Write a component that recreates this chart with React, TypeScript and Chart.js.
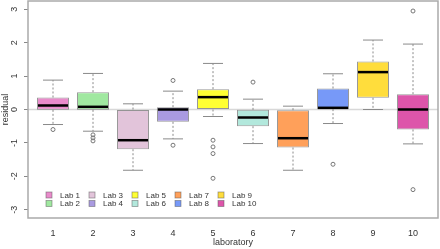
import React, { useEffect, useRef } from "react";
import { Chart, registerables } from "chart.js";

Chart.register(...registerables);

const labs = [1, 2, 3, 4, 5, 6, 7, 8, 9, 10];
const labNames = ["Lab 1", "Lab 2", "Lab 3", "Lab 4", "Lab 5", "Lab 6", "Lab 7", "Lab 8", "Lab 9", "Lab 10"];
const q1 = [-0.01, -0.01, -1.19, -0.37, 0.0, -0.5, -1.14, 0.01, 0.35, -0.6];
const q3 = [0.36, 0.52, 0.0, 0.07, 0.61, -0.01, -0.02, 0.63, 1.44, 0.46];
const medians = [0.12, 0.08, -0.92, 0.0, 0.37, -0.24, -0.86, 0.05, 1.12, 0.0];
const whiskerLow = [-0.45, -0.65, -1.82, -0.88, -0.21, -1.02, -1.82, -0.42, 0.0, -1.03];
const whiskerHigh = [0.88, 1.08, 0.17, 0.55, 1.38, 0.31, 0.1, 1.07, 2.08, 1.96];
const outlierLab = [1, 2, 2, 2, 4, 4, 5, 5, 5, 5, 6, 8, 10, 10];
const outlierValue = [-0.6, -0.76, -0.85, -0.94, 0.87, -1.07, -0.92, -1.12, -1.32, -2.06, 0.82, -1.64, 2.95, -2.4];
const colors = ["#E98BCB", "#A0E8A0", "#E2C4DA", "#A99AE0", "#FFFF33", "#B2E8DC", "#FFA05A", "#7799F8", "#FFDD3C", "#DD55AA"];
const yTicks = [-3, -2, -1, 0, 1, 2, 3];

const TEXT = "#333333";
const FONT = "Liberation Sans, Arial, sans-serif";

const boxPlugin = {
  id: "boxplotExtras",
  beforeDatasetsDraw(chart: any) {
    const { ctx, chartArea, scales } = chart;
    const x = scales.x;
    const y = scales.y;
    ctx.save();
    const y0 = y.getPixelForValue(0);
    ctx.strokeStyle = "#d8d8d8";
    ctx.lineWidth = 1.5;
    ctx.beginPath();
    ctx.moveTo(chartArea.left, y0);
    ctx.lineTo(chartArea.right, y0);
    ctx.stroke();
    const unit = x.getPixelForValue(1) - x.getPixelForValue(0);
    labs.forEach((lab, i) => {
      const px = x.getPixelForValue(lab);
      ctx.strokeStyle = "#8a8a8a";
      ctx.lineWidth = 1;
      ctx.setLineDash([2, 2]);
      ctx.beginPath();
      ctx.moveTo(px, y.getPixelForValue(q3[i]));
      ctx.lineTo(px, y.getPixelForValue(whiskerHigh[i]));
      ctx.moveTo(px, y.getPixelForValue(q1[i]));
      ctx.lineTo(px, y.getPixelForValue(whiskerLow[i]));
      ctx.stroke();
      ctx.setLineDash([]);
      ctx.beginPath();
      const half = unit * 0.25;
      ctx.moveTo(px - half, y.getPixelForValue(whiskerHigh[i]));
      ctx.lineTo(px + half, y.getPixelForValue(whiskerHigh[i]));
      ctx.moveTo(px - half, y.getPixelForValue(whiskerLow[i]));
      ctx.lineTo(px + half, y.getPixelForValue(whiskerLow[i]));
      ctx.stroke();
    });
    ctx.restore();
  },
  afterDatasetsDraw(chart: any) {
    const { ctx, scales } = chart;
    const y = scales.y;
    const meta = chart.getDatasetMeta(0);
    ctx.save();
    ctx.strokeStyle = "#000000";
    ctx.lineWidth = 2.5;
    meta.data.forEach((bar: any, i: number) => {
      const w = bar.width;
      const py = y.getPixelForValue(medians[i]);
      ctx.beginPath();
      ctx.moveTo(bar.x - w / 2 + 1, py);
      ctx.lineTo(bar.x + w / 2 - 1, py);
      ctx.stroke();
    });
    ctx.restore();
  },
  afterDraw(chart: any) {
    const { ctx, chartArea, scales } = chart;
    const y = scales.y;
    ctx.save();
    ctx.strokeStyle = "#aaaaaa";
    ctx.lineWidth = 1.5;
    ctx.strokeRect(chartArea.left, chartArea.top, chartArea.right - chartArea.left, chartArea.bottom - chartArea.top);
    ctx.fillStyle = TEXT;
    ctx.font = `9px ${FONT}`;
    ctx.textAlign = "center";
    ctx.textBaseline = "middle";
    y.ticks.forEach((t: any) => {
      const py = y.getPixelForValue(t.value);
      ctx.save();
      ctx.translate(chartArea.left - 13, py);
      ctx.rotate(-Math.PI / 2);
      ctx.fillText(String(t.value), 0, 0);
      ctx.restore();
    });
    ctx.font = `8px ${FONT}`;
    ctx.textAlign = "left";
    labNames.forEach((name, i) => {
      const col = Math.floor(i / 2);
      const row = i % 2;
      const cx = chartArea.left + 21 + col * 43;
      const cy = chartArea.bottom - 23 + row * 8.5;
      ctx.fillStyle = colors[i];
      ctx.fillRect(cx - 3, cy - 3, 6, 6);
      ctx.strokeStyle = "rgba(90,90,90,0.6)";
      ctx.lineWidth = 0.8;
      ctx.strokeRect(cx - 3, cy - 3, 6, 6);
      ctx.fillStyle = TEXT;
      ctx.fillText(name, cx + 11, cy + 0.5);
    });
    ctx.restore();
  },
};

export default function App() {
  const ref = useRef<HTMLCanvasElement>(null);
  useEffect(() => {
    document.body.style.margin = "0";
    const boxData = labs.map((lab, i) => ({ x: lab, y: [q1[i], q3[i]] }));
    const outData = outlierLab.map((lab, i) => ({ x: lab, y: outlierValue[i] }));
    const chart = new Chart(ref.current as HTMLCanvasElement, {
      type: "bar",
      data: {
        datasets: [
          {
            type: "bar",
            data: boxData as any,
            backgroundColor: colors,
            borderColor: "rgba(70,70,70,0.55)",
            borderWidth: 1,
            borderSkipped: false,
            barPercentage: 0.8,
            categoryPercentage: 1,
          } as any,
          {
            type: "scatter",
            data: outData as any,
            pointStyle: "circle",
            pointRadius: 2,
            pointHoverRadius: 2,
            pointBorderColor: "#777777",
            pointBackgroundColor: "rgba(0,0,0,0)",
            pointBorderWidth: 1,
            showLine: false,
          } as any,
        ],
      },
      options: {
        animation: false,
        responsive: true,
        maintainAspectRatio: false,
        layout: { autoPadding: false, padding: { top: 1, right: 2, left: 0, bottom: 0 } },
        plugins: { legend: { display: false }, tooltip: { enabled: false } },
        scales: {
          x: {
            type: "linear",
            offset: false,
            min: 0.375,
            max: 10.625,
            afterBuildTicks: (scale: any) => {
              scale.ticks = labs.map((v) => ({ value: v }));
            },
            afterFit: (scale: any) => {
              scale.height = 31;
              scale.paddingLeft = 0;
              scale.paddingRight = 0;
              scale.paddingTop = 0;
              scale.paddingBottom = 0;
            },
            grid: { display: false, drawTicks: false },
            border: { display: false },
            ticks: { color: TEXT, font: { size: 9, family: FONT }, padding: 10, maxRotation: 0, autoSkip: false },
            title: { display: true, text: "laboratory", color: TEXT, font: { size: 9, family: FONT }, padding: { top: 0, bottom: 1 } },
          },
          y: {
            type: "linear",
            min: -3.25,
            max: 3.25,
            afterBuildTicks: (scale: any) => {
              scale.ticks = yTicks.map((v) => ({ value: v }));
            },
            afterFit: (scale: any) => {
              scale.width = 28;
              scale.paddingLeft = 0;
              scale.paddingRight = 0;
              scale.paddingTop = 0;
              scale.paddingBottom = 0;
            },
            grid: { drawOnChartArea: false, drawTicks: true, tickLength: 4, color: "#888888" },
            border: { display: false },
            ticks: { display: false },
            title: { display: true, text: "residual", color: TEXT, font: { size: 9, family: FONT }, padding: { top: 0, bottom: 0 } },
          },
        },
      } as any,
      plugins: [boxPlugin],
    });
    return () => chart.destroy();
  }, []);
  return (
    <div style={{ position: "fixed", left: 0, top: 0, width: 440, height: 249 }}>
      <canvas ref={ref} />
    </div>
  );
}
